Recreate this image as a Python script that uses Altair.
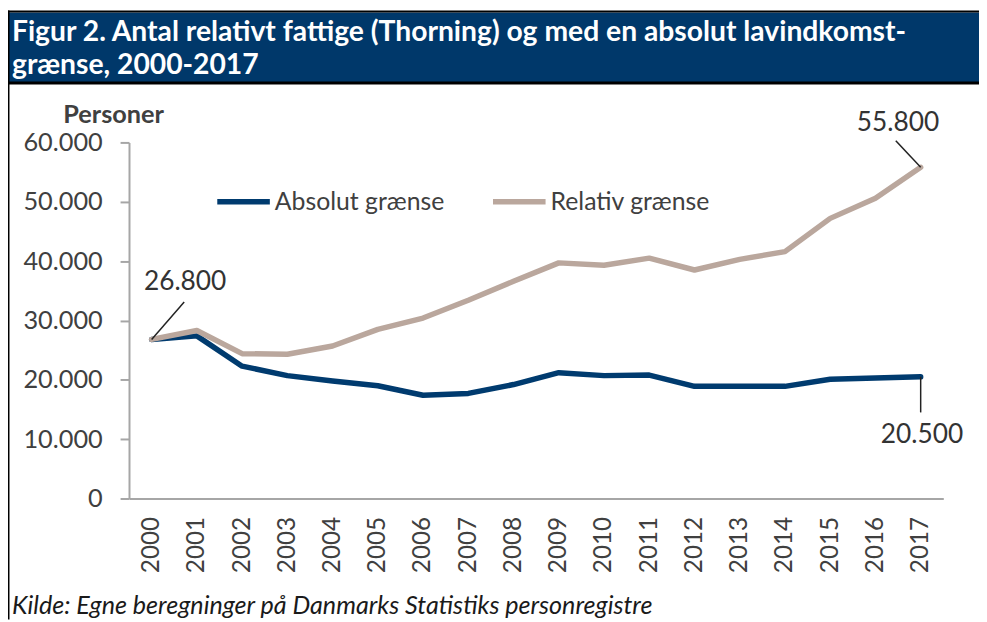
import altair as alt
import pandas as pd

# ---------------- data ----------------
years = list(range(2000, 2018))
absolut = [26800, 27400, 22300, 20700, 19800, 19000, 17400, 17700, 19200, 21200,
           20700, 20800, 18900, 18900, 18900, 20100, 20300, 20500]
relativ = [26800, 28300, 24400, 24300, 25700, 28500, 30400, 33400, 36600, 39700,
           39300, 40500, 38500, 40300, 41600, 47200, 50600, 55800]
series_names = ["Absolut grænse", "Relativ grænse"]
series_colors = ["#003B6F", "#BAA79D"]
y_ticks = [0, 10000, 20000, 30000, 40000, 50000, 60000]

ann_text = ["26.800", "55.800", "20.500"]
ann_year = [2000, 2017, 2017]
ann_value = [26800, 55800, 20500]
ann_label_year = [2000.74, 2016.5, 2017.03]
ann_label_value = [36400, 63300, 10700]
ann_lead_year = [2000.72, 2016.45, 2017.0]
ann_lead_value = [33100, 60300, 14500]

title_line1 = "Figur 2. Antal relativt fattige (Thorning) og med en absolut lavindkomst-"
title_line2 = "grænse, 2000-2017"
footer = "Kilde: Egne beregninger på Danmarks Statistiks personregistre"

# ---------------- tables ----------------
lines_df = pd.DataFrame({
    "year": years * 2,
    "value": absolut + relativ,
    "series": [series_names[0]] * len(years) + [series_names[1]] * len(years),
})
ann_df = pd.DataFrame({
    "text": ann_text, "year": ann_year, "value": ann_value,
    "label_year": ann_label_year, "label_value": ann_label_value,
    "lead_year": ann_lead_year, "lead_value": ann_lead_value,
})

FONT = "Lato"
TXT = "#404040"
AX = "#A6A6A6"

x_scale = alt.Scale(domain=[1999.5, 2017.5], nice=False, zero=False)
y_scale = alt.Scale(domain=[0, 60000], nice=False)

x_axis = alt.Axis(values=years, format="d", labelAngle=-90, ticks=False, grid=False,
                  domainColor=AX, domainWidth=2, labelFont=FONT, labelFontSize=24.5,
                  labelColor=TXT, labelPadding=18, labelOverlap=False, labelFlush=False,
                  title=None)
y_axis = alt.Axis(values=y_ticks,
                  labelExpr="replace(format(datum.value, ',d'), ',', '.')",
                  tickSize=9, tickColor=AX, tickWidth=2, domainColor=AX, domainWidth=2,
                  grid=False, labelFont=FONT, labelFontSize=25.5, labelColor=TXT,
                  labelPadding=18, title="Personer", titleAngle=0, titleX=-16, titleY=-28,
                  titleAlign="center", titleBaseline="middle", titleFont=FONT,
                  titleFontSize=25.5, titleFontWeight="bold", titleColor=TXT)

lines = alt.Chart(lines_df).mark_line(strokeWidth=5.5, strokeCap="round", strokeJoin="round").encode(
    x=alt.X("year:Q", scale=x_scale, axis=x_axis),
    y=alt.Y("value:Q", scale=y_scale, axis=y_axis),
    color=alt.Color("series:N", scale=alt.Scale(domain=series_names, range=series_colors),
                    legend=alt.Legend(orient="none", legendX=86, legendY=30,
                                      direction="horizontal", title=None,
                                      symbolType="stroke", symbolStrokeWidth=5.5,
                                      symbolSize=2809, labelFont=FONT, labelFontSize=25,
                                      labelLimit=0, labelColor=TXT, columnPadding=37,
                                      labelOffset=2)),
)

leaders = alt.Chart(ann_df).mark_rule(color="#222222", strokeWidth=1.5).encode(
    x=alt.X("year:Q", scale=x_scale), y=alt.Y("value:Q", scale=y_scale),
    x2="lead_year:Q", y2="lead_value:Q",
)
labels = alt.Chart(ann_df).mark_text(font=FONT, fontSize=26.5, color="#333333").encode(
    x=alt.X("label_year:Q", scale=x_scale), y=alt.Y("label_value:Q", scale=y_scale),
    text="text:N",
)

one = alt.Data(values=[{"k": 0}])
bar = alt.Chart(one).mark_rect(color="#00386A").encode(
    x=alt.value(-122), x2=alt.value(857), y=alt.value(-131), y2=alt.value(-61))
top_rule = alt.Chart(one).mark_rule(color="black", strokeWidth=2).encode(
    x=alt.value(-122), x2=alt.value(857), y=alt.value(-132))
sep_rule = alt.Chart(one).mark_rule(color="black", strokeWidth=3).encode(
    x=alt.value(-122), x2=alt.value(857), y=alt.value(-60))
left_rule = alt.Chart(one).mark_rule(color="black", strokeWidth=2).encode(
    x=alt.value(-121.5), y=alt.value(-133), y2=alt.value(481))
title_style = dict(font=FONT, fontSize=28.5, fontWeight="bold", color="white",
                   align="left", baseline="alphabetic")
title1 = alt.Chart(one).mark_text(**title_style).encode(
    x=alt.value(-118), y=alt.value(-102), text=alt.value(title_line1))
title2 = alt.Chart(one).mark_text(**title_style).encode(
    x=alt.value(-118), y=alt.value(-69), text=alt.value(title_line2))
footer_txt = alt.Chart(one).mark_text(font=FONT, fontSize=25.3, fontStyle="italic", color="#1A1A1A",
                                      align="left", baseline="alphabetic").encode(
    x=alt.value(-118), y=alt.value(475), text=alt.value(footer))

chart = alt.layer(bar, top_rule, sep_rule, left_rule, title1, title2, footer_txt,
                  lines, leaders, labels).properties(
    width=821, height=359,
    autosize=alt.AutoSizeParams(type="none"),
    padding={"left": 122, "top": 133, "right": 36, "bottom": 122},
    background="white",
).configure_view(stroke=None)

chart.save("out.html", embed_options={"renderer": "svg", "actions": False})
